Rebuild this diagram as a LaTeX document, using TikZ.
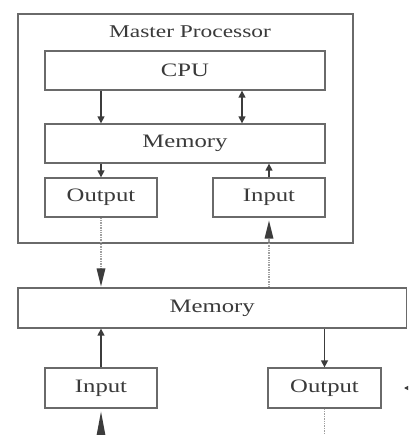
\documentclass[tikz,border=0pt]{standalone}
\usepackage{fontspec}
\setmainfont{Liberation Serif}[FakeStretch=1.3]
\usetikzlibrary{arrows.meta}
\definecolor{boxgray}{HTML}{6A6A6A}
\definecolor{textgray}{HTML}{3A3A3A}
\definecolor{arrowgray}{HTML}{3C3C3C}
\definecolor{dotgray}{HTML}{A0A0A0}

\begin{document}
\begin{tikzpicture}[x=1pt, y=-1pt,
  box/.style={draw=boxgray, line width=1.3pt, inner sep=0pt, text=textgray,
    font=\fontsize{19}{22}\selectfont},
  link/.style={draw=arrowgray, line width=1.4pt,
    -{Triangle[length=7pt, width=7pt]}},
  twoway/.style={draw=arrowgray, line width=1.4pt,
    {Triangle[length=7pt, width=7pt]}-{Triangle[length=7pt, width=7pt]}},
  busline/.style={draw=dotgray, line width=1.4pt, densely dotted,
    -{Triangle[length=18pt, width=9pt, fill=arrowgray, line width=0pt]}},
  buswire/.style={draw=dotgray, line width=1.4pt, densely dotted},
]
  \useasboundingbox (0,0) rectangle (408,435);
  \clip (0,0) rectangle (408,435);
  \fill[white] (0,0) rectangle (408,435);

  % master processor and its parts
  \node[box, minimum width=335pt, minimum height=229pt] (master) at (185.5,128.5) {};
  \node[text=textgray, font=\fontsize{18}{21}\selectfont] (title) at (190,32) {Master Processor};
  \node[box, minimum width=280pt, minimum height=39pt] (cpu) at (185,70.5) {CPU};
  \node[box, minimum width=280pt, minimum height=39pt] (mem1) at (185,143.5) {Memory};
  \node[box, minimum width=112pt, minimum height=39pt] (out1) at (101,197.5) {Output};
  \node[box, minimum width=112pt, minimum height=39pt] (in1) at (269,197.5) {Input};

  % shared memory and the outside devices
  \node[box, minimum width=388.5pt, minimum height=40pt] (mem2) at (212.25,308) {Memory};
  \node[box, minimum width=112pt, minimum height=40pt] (in2) at (101,388) {Input};
  \node[box, minimum width=113pt, minimum height=40pt] (out2) at (324.5,388) {Output};

  \coordinate (bus) at (242,0);
  \coordinate (bottom) at (0,440);
  \coordinate (rightin) at (416,388);
  \coordinate (righttip) at (404,388);

  % links inside the master processor
  \draw[link] (cpu.south -| out1) -- (mem1.north -| out1);
  \draw[twoway] (cpu.south -| bus) -- (mem1.north -| bus);
  \draw[link] (mem1.south -| out1) -- (out1.north);
  \draw[link] (in1.north) -- (mem1.south -| in1);

  % links through the shared memory
  \draw[busline, shorten >=1pt] (out1.south) -- (mem2.north -| out1);
  \draw[busline, shorten >=3pt] (mem2.north -| in1) -- (in1.south);
  \draw[link] (in2.north) -- (mem2.south -| in2);
  \draw[link] (mem2.south -| out2) -- (out2.north);

  % lines leaving the picture
  \draw[busline, -{Triangle[length=24pt, width=9pt, fill=arrowgray, line width=0pt]},
    shorten >=3pt] (in2.south |- bottom) -- (in2.south);
  \draw[buswire] (out2.south) -- (out2.south |- bottom);
  \draw[draw=arrowgray, line width=1.2pt, -{Triangle[length=6pt, width=6pt]}] (rightin) -- (righttip);
\end{tikzpicture}
\end{document}
